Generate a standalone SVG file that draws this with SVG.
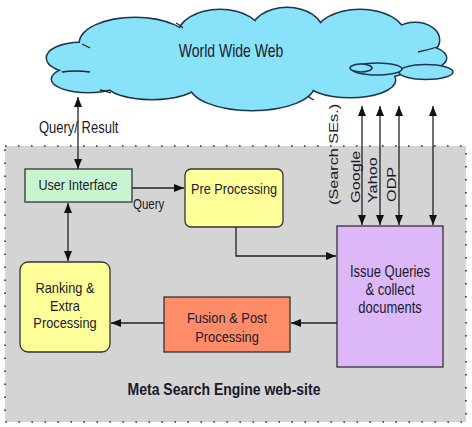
<svg xmlns="http://www.w3.org/2000/svg" width="472" height="427" viewBox="0 0 472 427">
<defs>
<style>
.t{font-family:"Liberation Sans",Arial,sans-serif;font-size:13px;fill:#1a1a2a}
.b{font-weight:bold;font-size:14px}
.box{stroke:#333;stroke-width:1.3}
.ln{stroke:#222;stroke-width:1.3;fill:none}
.cs{fill:#88e2f9;stroke:#1f3550;stroke-width:3}
.cf{fill:#88e2f9;stroke:none}
.ce{fill:#88e2f9;stroke:#1f3550;stroke-width:1.5}
</style>
<marker id="ah" viewBox="0 0 10 8" refX="10" refY="4" markerWidth="10" markerHeight="8" markerUnits="userSpaceOnUse" orient="auto-start-reverse">
<path d="M0,0 L10,4 L0,8 z" fill="#111"/>
</marker>
<g id="cloudShapes">
<ellipse cx="80" cy="58" rx="33" ry="15"/>
<ellipse cx="88" cy="79" rx="36" ry="13"/>
<ellipse cx="152" cy="84" rx="45" ry="15"/>
<ellipse cx="252" cy="85" rx="62" ry="25"/>
<ellipse cx="350" cy="80" rx="45" ry="17"/>
<ellipse cx="135" cy="43" rx="55" ry="25"/>
<ellipse cx="220" cy="36" rx="42" ry="26"/>
<ellipse cx="287" cy="33" rx="36" ry="25"/>
<ellipse cx="360" cy="36" rx="45" ry="26"/>
<ellipse cx="415" cy="40" rx="24" ry="17"/>
<ellipse cx="420" cy="58" rx="26" ry="12"/>
<ellipse cx="250" cy="60" rx="170" ry="30"/>
</g>
</defs>

<g id="site">
<rect x="5" y="146" width="461" height="276" fill="#d4d4d4" stroke="#333" stroke-width="1.6" stroke-dasharray="1.6 11.4"/>
<text class="t b" text-anchor="middle" transform="translate(224,395) scale(1,1.2)">Meta Search Engine web-site</text>
</g>

<g id="www">
<use href="#cloudShapes" class="cs"/>
<use href="#cloudShapes" class="cf"/>
<path d="M62,72 Q75,70 90,72 M82,44 Q86,46 90,48 M176,23 Q180,25 183,28 M100,90 Q106,91 111,93 M418,52 Q428,50 437,47 M308,96 Q311,99 314,100" class="ln" stroke="#1f3550"/>
<ellipse cx="426" cy="72" rx="27" ry="7.5" class="ce"/>
<ellipse cx="377" cy="69" rx="25" ry="6" class="ce"/>
<ellipse cx="361" cy="68" rx="11" ry="4" class="ce"/>
<text class="t" text-anchor="middle" style="font-size:14px" transform="translate(231,57) scale(1,1.25)">World Wide Web</text>
</g>

<g id="connectors">
<line x1="78" y1="97" x2="78" y2="169" class="ln" marker-start="url(#ah)" marker-end="url(#ah)"/>
<line x1="132" y1="188" x2="184" y2="188" class="ln" marker-end="url(#ah)"/>
<line x1="68" y1="203" x2="68" y2="261" class="ln" marker-start="url(#ah)" marker-end="url(#ah)"/>
<polyline points="236,227 236,256 336,256" class="ln" marker-end="url(#ah)"/>
<line x1="337" y1="323" x2="291" y2="323" class="ln" marker-end="url(#ah)"/>
<line x1="164" y1="323" x2="111" y2="323" class="ln" marker-end="url(#ah)"/>
<line x1="362" y1="106" x2="362" y2="225" class="ln" marker-start="url(#ah)" marker-end="url(#ah)"/>
<line x1="380" y1="106" x2="380" y2="225" class="ln" marker-start="url(#ah)" marker-end="url(#ah)"/>
<line x1="399" y1="106" x2="399" y2="225" class="ln" marker-start="url(#ah)" marker-end="url(#ah)"/>
<line x1="433" y1="106" x2="433" y2="225" class="ln" marker-start="url(#ah)" marker-end="url(#ah)"/>
<text class="t" transform="translate(39,133) scale(1,1.2)">Query/ Result</text>
<text class="t" style="font-size:11.5px" transform="translate(133,209) scale(1,1.2)">Query</text>
<text class="t" style="font-size:12.5px" transform="translate(338,205) scale(1,1.3) rotate(-90)">(Search SEs.)</text>
<text class="t" style="font-size:12.5px" transform="translate(360,203) scale(1,1.3) rotate(-90)">Google</text>
<text class="t" style="font-size:12.5px" transform="translate(377,203) scale(1,1.3) rotate(-90)">Yahoo</text>
<text class="t" style="font-size:12.5px" transform="translate(396,202) scale(1,1.3) rotate(-90)">ODP</text>
</g>

<g id="ui">
<rect x="25" y="169" width="107" height="33" fill="#c8f5d0" class="box"/>
<text class="t" style="font-size:12.6px" text-anchor="middle" transform="translate(78,190) scale(1,1.2)">User Interface</text>
</g>

<g id="pre">
<rect x="185" y="169" width="98" height="58" rx="6" fill="#ffff99" class="box"/>
<text class="t" style="font-size:12.7px" text-anchor="middle" transform="translate(234,194) scale(1,1.22)">Pre Processing</text>
</g>

<g id="ranking">
<rect x="20" y="262" width="90" height="90" rx="8" fill="#ffff99" class="box"/>
<text class="t" style="font-size:12.8px" text-anchor="middle" transform="translate(65,293) scale(1,1.2)"><tspan x="0" y="0">Ranking &amp;</tspan><tspan x="0" dy="14.6">Extra</tspan><tspan x="0" dy="14.6">Processing</tspan></text>
</g>

<g id="fusion">
<rect x="164" y="297" width="126" height="55" fill="#ff8c69" class="box"/>
<text class="t" style="font-size:12.9px" text-anchor="middle" transform="translate(227,323) scale(1,1.2)"><tspan x="0" y="0">Fusion &amp; Post</tspan><tspan x="0" dy="15.8">Processing</tspan></text>
</g>

<g id="issue">
<rect x="337" y="226" width="106" height="141" fill="#dcb8f8" class="box"/>
<text class="t" text-anchor="middle" transform="translate(390,277) scale(1,1.2)"><tspan x="0" y="0">Issue Queries</tspan><tspan x="0" dy="15">&amp; collect</tspan><tspan x="0" dy="15">documents</tspan></text>
</g>
</svg>
